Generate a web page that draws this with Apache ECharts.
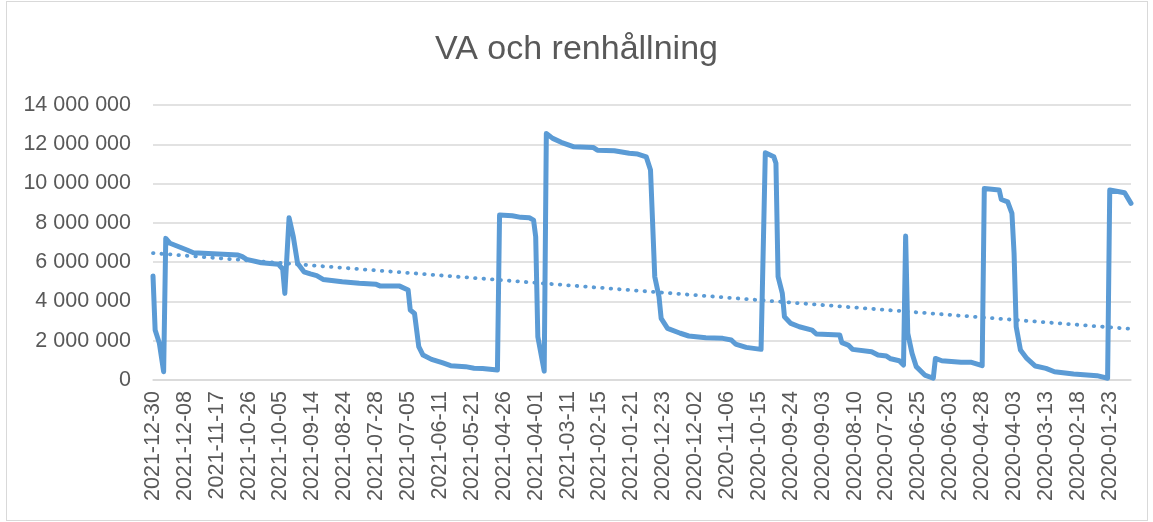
<!DOCTYPE html>
<html lang="sv">
<head>
  <meta charset="UTF-8">
  <title>VA och renhållning</title>
  <script src="https://cdn.jsdelivr.net/npm/echarts@6.0.0/dist/echarts.min.js"></script>
  <style>
    body { margin: 0; background: #fff; }
    #chart { width: 1153px; height: 522px; }
    .frame { position: absolute; left: 6px; top: 1px; width: 1140px; height: 518px; border: 1px solid #d9d9d9; pointer-events: none; }
  </style>
</head>
<body>
  <div id="chart"></div>
  <div class="frame"></div>

  <script>
    // datumetiketter, var 15:e bankdag (nyast först)
    const tickDates = [
      '2021-12-30', '2021-12-08', '2021-11-17', '2021-10-26', '2021-10-05', '2021-09-14',
      '2021-08-24', '2021-07-28', '2021-07-05', '2021-06-11', '2021-05-21', '2021-04-26',
      '2021-04-01', '2021-03-11', '2021-02-15', '2021-01-21', '2020-12-23', '2020-12-02',
      '2020-11-06', '2020-10-15', '2020-09-24', '2020-09-03', '2020-08-10', '2020-07-20',
      '2020-06-25', '2020-06-03', '2020-04-28', '2020-04-03', '2020-03-13', '2020-02-18',
      '2020-01-23'
    ];
    const lastDay = 460;

    // avläsning av kurvan: bankdag nr (0 = 2021-12-30) och saldo
    const dayNo = [
      0, 1, 3, 5, 6, 8, 16, 19, 40, 42, 44, 51, 59, 61, 62, 64, 66, 68, 71, 74, 77, 80,
      89, 97, 105, 107, 116, 120, 121, 123, 125, 127, 131, 136, 140, 147, 151, 155, 162,
      163, 169, 173, 177, 179, 180, 181, 184, 185, 188, 192, 198, 207, 209, 217, 224, 228,
      232, 234, 236, 238, 239, 242, 248, 252, 260, 268, 272, 274, 279, 286, 288, 292, 293,
      294, 296, 297, 300, 304, 310, 312, 323, 324, 327, 329, 338, 341, 345, 347, 351, 353,
      354, 355, 357, 359, 363, 367, 368, 371, 380, 385, 390, 391, 398, 399, 402, 404, 405,
      406, 408, 411, 415, 420, 424, 433, 444, 449, 450, 457, 460
    ];
    const saldo = [
      5300000, 2550000, 1870000, 420000, 7210000, 6960000, 6620000, 6480000, 6360000, 6280000,
      6140000, 5970000, 5890000, 5650000, 4410000, 8260000, 7290000, 5940000, 5510000, 5400000,
      5310000, 5120000, 5000000, 4920000, 4870000, 4780000, 4780000, 4580000, 3560000, 3390000,
      1700000, 1270000, 1050000, 880000, 730000, 680000, 600000, 580000, 510000,
      8400000, 8360000, 8280000, 8260000, 8140000, 7290000, 2200000, 450000, 12550000,
      12300000, 12100000, 11870000, 11840000, 11700000, 11670000, 11540000, 11500000,
      11360000, 10690000, 5260000, 4240000, 3140000, 2630000, 2380000, 2240000, 2150000,
      2120000, 2040000, 1830000, 1660000, 1560000, 11570000, 11360000, 11030000,
      5260000, 4410000, 3220000, 2880000, 2710000, 2540000, 2340000, 2290000, 1900000,
      1780000, 1560000, 1440000, 1270000, 1220000, 1080000, 980000, 760000,
      7330000, 2380000, 1360000, 680000, 250000, 90000, 1100000, 980000, 900000, 900000,
      730000, 9750000, 9670000, 9190000, 9070000, 8480000, 6450000, 2710000, 1530000,
      1100000, 710000, 590000, 420000, 310000, 220000, 90000, 9670000, 9530000, 8990000
    ];

    // linjär trendlinje (ändpunkter avlästa)
    const trendDay = [0, 460];
    const trendValue = [6460000, 2600000];

    const zip = (xs, ys) => xs.map((x, i) => [x, ys[i]]);

    const chart = echarts.init(document.getElementById('chart'));
    const grey = '#595959';
    const blue = '#5b9bd5';
    const font = 'Liberation Sans, Arial, sans-serif';

    chart.setOption({
      animation: false,
      title: {
        text: 'VA och renhållning',
        left: 'center',
        top: 33,
        padding: 0,
        textStyle: { color: grey, fontSize: 34, fontWeight: 'normal', fontFamily: font }
      },
      grid: { left: 153, right: 22, top: 105, bottom: 142 },
      xAxis: {
        type: 'value',
        min: 0,
        max: lastDay,
        interval: 15,
        axisLine: { lineStyle: { color: '#d9d9d9', width: 1.5 } },
        axisTick: { show: false },
        splitLine: { show: false },
        axisLabel: {
          rotate: 90,
          margin: 11,
          color: grey,
          fontSize: 21.5,
          fontFamily: font,
          showMaxLabel: false,
          formatter: v => (v % 15 === 0 && tickDates[v / 15]) ? tickDates[v / 15] : ''
        }
      },
      yAxis: {
        type: 'value',
        min: 0,
        max: 14000000,
        interval: 2000000,
        axisLine: { show: false },
        axisTick: { show: false },
        splitLine: { lineStyle: { color: '#d9d9d9', width: 1.5 } },
        axisLabel: {
          margin: 22,
          color: grey,
          fontSize: 21.5,
          fontFamily: font,
          formatter: v => String(v).replace(/\B(?=(\d{3})+(?!\d))/g, ' ')
        }
      },
      series: [
        {
          name: 'Saldo',
          type: 'line',
          data: zip(dayNo, saldo),
          showSymbol: false,
          lineStyle: { color: blue, width: 5, join: 'round', cap: 'round' }
        },
        {
          name: 'Linjär (Saldo)',
          type: 'line',
          data: zip(trendDay, trendValue),
          showSymbol: false,
          lineStyle: { color: blue, width: 3.8, type: [0.5, 8], cap: 'round' }
        }
      ]
    });
  </script>
</body>
</html>
